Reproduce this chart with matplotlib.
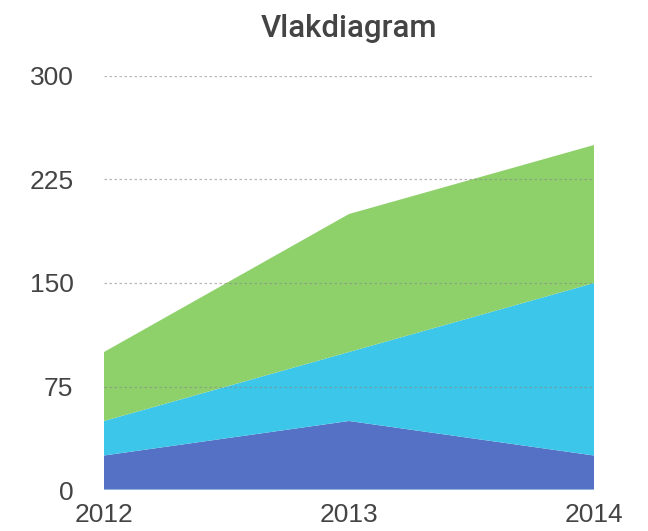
import matplotlib

matplotlib.use("Agg")
import matplotlib.pyplot as plt
import numpy as np

plt.rcParams["font.family"] = ["Liberation Sans", "DejaVu Sans"]

years = ["2012", "2013", "2014"]
series_bottom = [25, 50, 25]
series_middle = [25, 50, 125]
series_top = [50, 100, 100]
colors = ["#5471c5", "#3cc6e9", "#8ed16b"]
yticks = [0, 75, 150, 225, 300]
TEXT = "#444444"


def main():
    fig = plt.figure(figsize=(6.48, 5.31), dpi=100)
    ax = fig.add_axes([104 / 648, 1 - 490 / 531, 490 / 648, 414 / 531])

    x = np.arange(len(years))
    ax.stackplot(x, series_bottom, series_middle, series_top, colors=colors, lw=0)

    ax.set_xlim(0, len(years) - 1)
    ax.set_ylim(0, 300)
    ax.set_xticks(x, years)
    ax.set_yticks(yticks, [str(v) for v in yticks])
    ax.tick_params(length=0, labelsize=19, colors=TEXT)
    ax.tick_params(axis="y", pad=22)
    ax.tick_params(axis="x", pad=9)
    for s in ax.spines.values():
        s.set_visible(False)
    for v in yticks[1:]:
        ax.axhline(v, color="#888888", lw=0.9, ls=(0, (2, 2)), alpha=0.6, zorder=5)
    ax.axhline(0, color="#9fc3e6", lw=1.2, zorder=5)

    ax.set_title("Vlakdiagram", fontsize=22.5, color=TEXT, fontweight=500,
                 family=["Roboto", "DejaVu Sans"], pad=28)

    fig.savefig("out.png", dpi=100)
    plt.close(fig)


if __name__ == "__main__":
    main()
